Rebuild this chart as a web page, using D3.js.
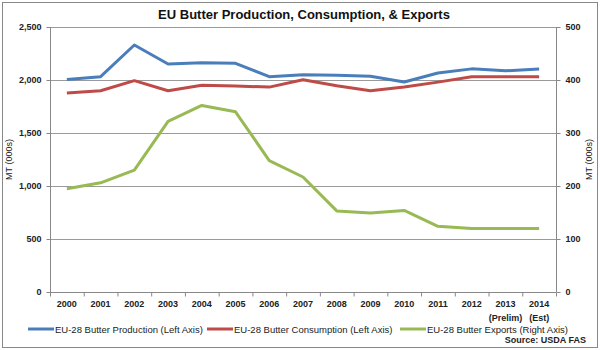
<!DOCTYPE html>
<html lang="en">
<head>
<meta charset="UTF-8">
<title>EU Butter Production, Consumption, & Exports</title>
<script src="https://d3js.org/d3.v7.min.js"></script>
<style>
  body { margin: 0; background: #fff; }
  svg { font-family: "Liberation Sans", Arial, sans-serif; }
  .grid line { stroke: #9a9a9a; stroke-width: 1; }
  .axis path, .axis line { stroke: #888; }
  .axis text { font-size: 9px; font-weight: bold; fill: #222; }
</style>
</head>
<body>
<svg id="chart"></svg>
<script>
const width = 600, height = 350;

const years = ["2000","2001","2002","2003","2004","2005","2006","2007","2008","2009","2010","2011","2012","2013","2014"];
const subLabels = {"2013": "(Prelim)", "2014": "(Est)"};

const production = [2005, 2031, 2330, 2151, 2163, 2157, 2031, 2050, 2045, 2036, 1981, 2066, 2105, 2087, 2104];
const consumption = [1877, 1899, 1994, 1899, 1950, 1943, 1933, 2002, 1945, 1899, 1935, 1980, 2031, 2031, 2031];
const exports = [195, 206, 230, 322, 352, 340, 248, 217, 153, 149, 154, 124, 120, 120, 120];

const leftTicks = [0, 500, 1000, 1500, 2000, 2500];
const rightTicks = [0, 100, 200, 300, 400, 500];

const margin = { top: 27, right: 44, bottom: 58, left: 50 };

const svg = d3.select('#chart').attr('width', width).attr('height', height);

// outer frame
svg.append('rect')
  .attr('x', 2.5).attr('y', 2.5)
  .attr('width', width - 5).attr('height', height - 5)
  .attr('fill', 'none').attr('stroke', '#888');

const x = d3.scaleBand().domain(years).range([margin.left, width - margin.right]);
const yL = d3.scaleLinear().domain([0, 2500]).range([height - margin.bottom, margin.top]);
const yR = d3.scaleLinear().domain([0, 500]).range([height - margin.bottom, margin.top]);

// gridlines
svg.append('g').attr('class', 'grid')
  .selectAll('line').data(leftTicks.slice(1)).enter().append('line')
  .attr('x1', margin.left).attr('x2', width - margin.right)
  .attr('y1', d => Math.round(yL(d)) + 0.5).attr('y2', d => Math.round(yL(d)) + 0.5);

// left axis
const gL = svg.append('g').attr('class', 'axis')
  .attr('transform', `translate(${margin.left + 0.5},0)`)
  .call(d3.axisLeft(yL).tickValues(leftTicks).tickFormat(d3.format(',')).tickSize(4).tickPadding(5));

// right axis
const gR = svg.append('g').attr('class', 'axis')
  .attr('transform', `translate(${width - margin.right + 0.5},0)`)
  .call(d3.axisRight(yR).tickValues(rightTicks).tickSize(4).tickPadding(5));
gR.select('.domain').attr('d', `M0,${yR(500)}V${yR(0)}`);
gL.select('.domain').attr('d', `M0,${yL(2500)}V${yL(0)}`);

// bottom axis
const gB = svg.append('g').attr('class', 'axis')
  .attr('transform', `translate(0,${height - margin.bottom + 0.5})`)
  .call(d3.axisBottom(x).tickSize(0).tickPadding(8));
gB.select('.domain').attr('d', `M${margin.left},0H${width - margin.right}`);
gB.selectAll('.cat-tick').data(years.concat(['end'])).enter().append('line')
  .attr('class', 'cat-tick')
  .attr('x1', (d, i) => margin.left + i * x.bandwidth() + 0.5)
  .attr('x2', (d, i) => margin.left + i * x.bandwidth() + 0.5)
  .attr('y1', 0).attr('y2', 4);
gB.selectAll('.tick').each(function(d) {
  if (subLabels[d]) {
    d3.select(this).append('text')
      .attr('y', 22).attr('dy', '0.71em')
      .attr('fill', '#222')
      .text(subLabels[d]);
  }
});

// axis titles
svg.append('text')
  .attr('transform', `translate(12,${(yL(0) + yL(2500)) / 2}) rotate(-90)`)
  .attr('text-anchor', 'middle').attr('font-size', 9).attr('fill', '#222')
  .text('MT (000s)');
svg.append('text')
  .attr('transform', `translate(592,${(yL(0) + yL(2500)) / 2}) rotate(-90)`)
  .attr('text-anchor', 'middle').attr('font-size', 9).attr('fill', '#222')
  .text('MT (000s)');

// title
svg.append('text')
  .attr('x', 304).attr('y', 19)
  .attr('text-anchor', 'middle').attr('font-size', 13).attr('font-weight', 'bold')
  .attr('fill', '#111')
  .text('EU Butter Production, Consumption, & Exports');

// lines
const cx = d => x(d) + x.bandwidth() / 2;
const series = [
  { values: production, scale: yL, color: '#4a7ebb', label: 'EU-28 Butter Production (Left Axis)' },
  { values: consumption, scale: yL, color: '#be4b48', label: 'EU-28 Butter Consumption (Left Axis)' },
  { values: exports, scale: yR, color: '#98b954', label: 'EU-28 Butter Exports (Right Axis)' }
];

series.forEach(s => {
  const line = d3.line()
    .x((d, i) => cx(years[i]))
    .y(d => s.scale(d));
  svg.append('path')
    .datum(s.values)
    .attr('fill', 'none')
    .attr('stroke', s.color)
    .attr('stroke-width', 3)
    .attr('stroke-linejoin', 'round')
    .attr('d', line);
});

// legend
const legendX = [28, 207, 400];
const legend = svg.append('g').attr('transform', 'translate(0,329)');
series.forEach((s, i) => {
  const g = legend.append('g').attr('transform', `translate(${legendX[i]},0)`);
  g.append('line').attr('x1', 0).attr('x2', 26).attr('y1', 0).attr('y2', 0)
    .attr('stroke', s.color).attr('stroke-width', 3);
  g.append('text').attr('x', 27).attr('y', 3.5)
    .attr('font-size', 9.5).attr('fill', '#222')
    .text(s.label);
});

svg.append('text')
  .attr('x', 586).attr('y', 343)
  .attr('text-anchor', 'end').attr('font-size', 9).attr('font-weight', 'bold')
  .attr('fill', '#222')
  .text('Source: USDA FAS');
</script>
</body>
</html>
